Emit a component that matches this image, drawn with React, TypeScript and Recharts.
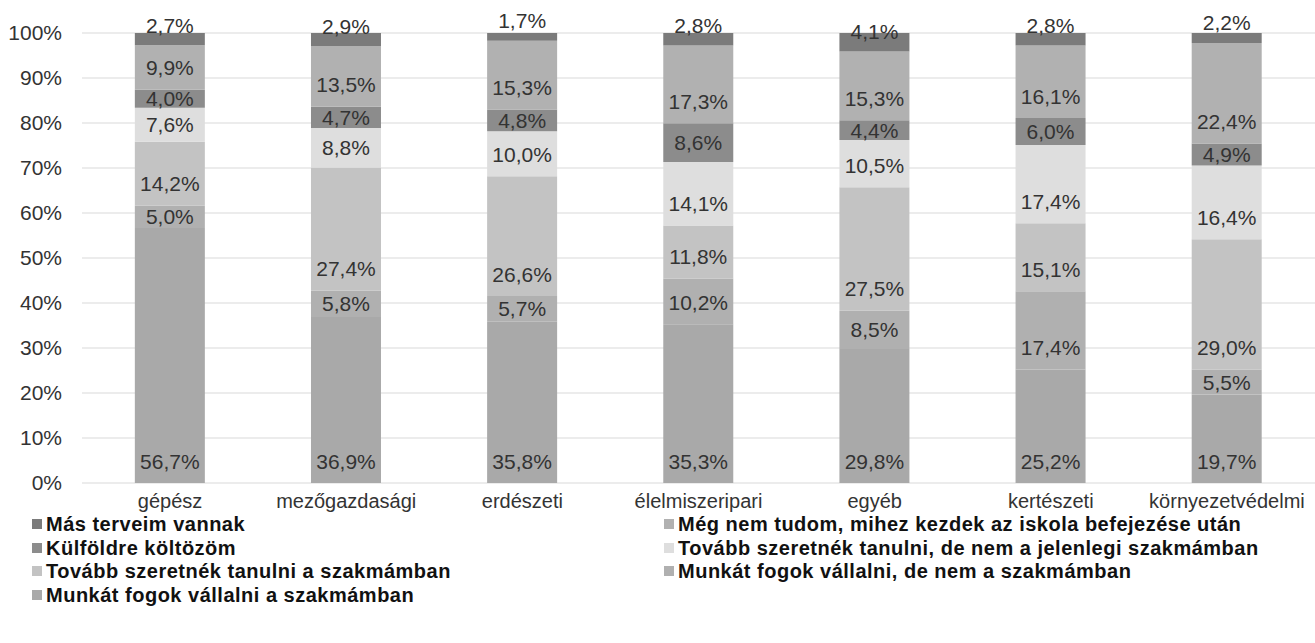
import { BarChart, Bar, XAxis, YAxis, CartesianGrid, Legend, LabelList } from "recharts"

const categories = ["gépész", "mezőgazdasági", "erdészeti", "élelmiszeripari", "egyéb", "kertészeti", "környezetvédelmi"]

// bottom of the stack first
const munkaSzakma = [56.7, 36.9, 35.8, 35.3, 29.8, 25.2, 19.7]
const munkaNemSzakma = [5.0, 5.8, 5.7, 10.2, 8.5, 17.4, 5.5]
const tanulSzakma = [14.2, 27.4, 26.6, 11.8, 27.5, 15.1, 29.0]
const tanulNemSzakma = [7.6, 8.8, 10.0, 14.1, 10.5, 17.4, 16.4]
const kulfold = [4.0, 4.7, 4.8, 8.6, 4.4, 6.0, 4.9]
const megNem = [9.9, 13.5, 15.3, 17.3, 15.3, 16.1, 22.4]
const masTerv = [2.7, 2.9, 1.7, 2.8, 4.1, 2.8, 2.2]

const yTicks = [0, 10, 20, 30, 40, 50, 60, 70, 80, 90, 100]

const series = [
  { key: "munkaSzakma", name: "Munkát fogok vállalni a szakmámban", values: munkaSzakma, color: "#a9a9a9" },
  { key: "munkaNemSzakma", name: "Munkát fogok vállalni, de nem a szakmámban", values: munkaNemSzakma, color: "#b0b0b0" },
  { key: "tanulSzakma", name: "Tovább szeretnék tanulni a szakmámban", values: tanulSzakma, color: "#c3c3c3" },
  { key: "tanulNemSzakma", name: "Tovább szeretnék tanulni, de nem a jelenlegi szakmámban", values: tanulNemSzakma, color: "#dedede" },
  { key: "kulfold", name: "Külföldre költözöm", values: kulfold, color: "#8c8c8c" },
  { key: "megNem", name: "Még nem tudom, mihez kezdek az iskola befejezése után", values: megNem, color: "#b1b1b1" },
  { key: "masTerv", name: "Más terveim vannak", values: masTerv, color: "#7b7b7b" },
]

const data = categories.map((c, i) => {
  const row: Record<string, string | number> = { name: c }
  series.forEach((s) => (row[s.key] = s.values[i]))
  return row
})

const font = "'Liberation Sans', Arial, sans-serif"
const fmt = (v: number) => v.toFixed(1).replace(".", ",") + "%"

const makeLabel = (isTop: boolean) => (props: any) => {
  const vb = props.viewBox || props
  const { x, y, width, height } = vb
  const bottom = y + height
  const cy = isTop ? bottom - 20 : Math.max(bottom - 22, y + height / 2)
  return (
    <text
      x={x + width / 2}
      y={cy}
      textAnchor="middle"
      dominantBaseline="central"
      fontSize={21}
      fontFamily={font}
      fill="#333"
    >
      {fmt(Number(props.value))}
    </text>
  )
}

function ChartLegend() {
  // reading order: top of the stack first
  const items = [...series].reverse()
  return (
    <div
      style={{
        height: 136,
        display: "grid",
        gridTemplateColumns: "636px 1fr",
        gridAutoRows: "23.7px",
        paddingTop: 5,
        fontFamily: font,
        fontWeight: "bold",
        fontSize: 20,
        letterSpacing: 0.5,
        lineHeight: "20px",
        color: "#111",
        textAlign: "left",
        boxSizing: "border-box",
      }}
    >
      {items.map((s, i) => (
        <div key={s.key} style={{ display: "flex", alignItems: "center", paddingLeft: i % 2 === 0 ? 32 : 28, whiteSpace: "nowrap" }}>
          <span style={{ width: 10, height: 10, background: s.color, marginRight: 4, display: "inline-block" }} />
          {s.name}
        </div>
      ))}
    </div>
  )
}

export default function App() {
  return (
    <div style={{ position: "absolute", left: 0, top: 0, background: "#fff" }}>
      <BarChart
        width={1315}
        height={643}
        data={data}
        stackOffset="expand"
        barCategoryGap="30%"
        margin={{ top: 33, right: 0, left: 0, bottom: 0 }}
      >
        <CartesianGrid vertical={false} stroke="#d9d9d9" />
        <XAxis
          dataKey="name"
          axisLine={false}
          tickLine={false}
          tickSize={0}
          tickMargin={11}
          height={24}
          interval={0}
          tick={{ fontSize: 20, fontFamily: font, fill: "#333" }}
        />
        <YAxis
          width={82}
          domain={[0, 1]}
          ticks={yTicks.map((t) => t / 100)}
          tickFormatter={(v: number) => `${Math.round(v * 100)}%`}
          axisLine={false}
          tickLine={false}
          tickSize={0}
          tickMargin={20}
          tick={{ fontSize: 21, fontFamily: font, fill: "#333" }}
        />
        <Legend verticalAlign="bottom" align="left" content={() => <ChartLegend />} />
        {series.map((s, i) => (
          <Bar key={s.key} dataKey={s.key} name={s.name} stackId="a" fill={s.color} isAnimationActive={false}>
            <LabelList dataKey={s.key} content={makeLabel(i === series.length - 1)} />
          </Bar>
        ))}
      </BarChart>
    </div>
  )
}
